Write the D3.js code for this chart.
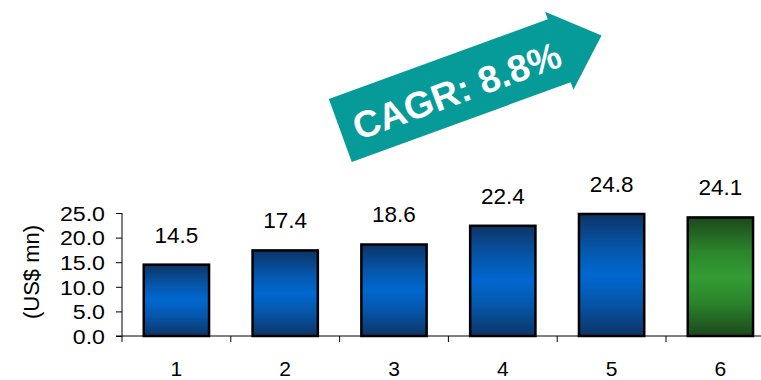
<!DOCTYPE html>
<html>
<head>
<meta charset="utf-8">
<script src="https://cdn.jsdelivr.net/npm/d3@7"></script>
<style>
  html, body { margin: 0; padding: 0; background: #fff; }
  svg { display: block; }
  text { font-family: "Liberation Sans", Arial, sans-serif; fill: #000; }
</style>
</head>
<body>
<svg id="chart" width="761" height="380"></svg>
<script>
const categories = ["1", "2", "3", "4", "5", "6"];
const values = [14.5, 17.4, 18.6, 22.4, 24.8, 24.1];
const yTicks = [0, 5, 10, 15, 20, 25];
const yTitle = "(US$ mn)";
const cagrLabel = "CAGR: 8.8%";

const svg = d3.select("#chart");
const W = 761, H = 380;
const x0 = 122, y0 = 336, yTop = 213;
const step = 108.8;

const x = d3.scaleBand().domain(categories)
  .range([x0, x0 + step * categories.length])
  .paddingInner(0.4).paddingOuter(0.2);
const y = d3.scaleLinear().domain([0, 25]).range([y0, yTop]);

const defs = svg.append("defs");
function grad(id, dark, mid, bright) {
  const g = defs.append("linearGradient").attr("id", id)
    .attr("x1", 0).attr("y1", 0).attr("x2", 0).attr("y2", 1);
  [[0, dark], [0.28, mid], [0.5, bright], [0.72, mid], [1, dark]].forEach(([o, c]) =>
    g.append("stop").attr("offset", o).attr("stop-color", c));
}
grad("gBlue", "#0c3466", "#0556aa", "#0068d0");
grad("gGreen", "#1c471c", "#2b842b", "#349c34");

// bars
svg.append("g").selectAll("rect").data(values).join("rect")
  .attr("x", (d, i) => x(categories[i]))
  .attr("y", d => y(d))
  .attr("width", x.bandwidth())
  .attr("height", d => y0 - y(d))
  .attr("fill", (d, i) => i === categories.length - 1 ? "url(#gGreen)" : "url(#gBlue)")
  .attr("stroke", "#000").attr("stroke-width", 2.5);

// value labels
svg.append("g").selectAll("text").data(values).join("text")
  .attr("x", (d, i) => x(categories[i]) + x.bandwidth() / 2)
  .attr("y", d => y(d) - 22)
  .attr("text-anchor", "middle")
  .style("font-size", "22.5px")
  .text(d => d.toFixed(1));

// y axis
const yAxis = d3.axisLeft(y).tickValues(yTicks).tickSize(6).tickPadding(10)
  .tickFormat(d3.format(".1f"));
const gy = svg.append("g").attr("transform", `translate(${x0},0)`).call(yAxis);
gy.select(".domain").attr("d", `M0,${yTop}V${y0}`).attr("stroke", "#000");
gy.selectAll(".tick line").attr("stroke", "#000");
gy.selectAll(".tick text")
  .attr("x", 0).attr("dy", "0.36em")
  .attr("transform", "translate(-17,0) scale(1.13,1)")
  .style("font-size", "20.5px").style("font-family", '"Liberation Sans", Arial, sans-serif').attr("fill", "#000");

// x axis
const gx = svg.append("g");
gx.append("line").attr("x1", x0 - 6).attr("x2", W).attr("y1", y0).attr("y2", y0).attr("stroke", "#000");
const bounds = d3.range(categories.length + 1).map(i => x0 + i * x.step());
gx.selectAll("line.tk").data(bounds).join("line").attr("class", "tk")
  .attr("x1", d => d).attr("x2", d => d).attr("y1", y0).attr("y2", y0 + 6).attr("stroke", "#000");
gx.selectAll("text").data(categories).join("text")
  .attr("x", d => x(d) + x.bandwidth() / 2)
  .attr("y", 376)
  .attr("text-anchor", "middle")
  .style("font-size", "21px")
  .text(d => d);

// y title
svg.append("text")
  .attr("transform", `translate(39,272) rotate(-90)`)
  .attr("text-anchor", "middle")
  .style("font-size", "22px")
  .text(yTitle);

// CAGR arrow
const arrow = svg.append("g").attr("transform", "translate(340.3,130.5) rotate(-20)");
arrow.append("path")
  .attr("d", d3.line()([[0, -33.5], [233, -33.5], [233, -41.5], [278, 0], [233, 41.5], [233, 33.5], [0, 33.5]]) + "Z")
  .attr("fill", "#069b99");
arrow.append("text")
  .attr("x", 123).attr("y", 2).attr("dy", "0.36em")
  .attr("text-anchor", "middle")
  .style("font-size", "37.5px").style("font-weight", "bold").style("fill", "#fff")
  .text(cagrLabel);
</script>
</body>
</html>
